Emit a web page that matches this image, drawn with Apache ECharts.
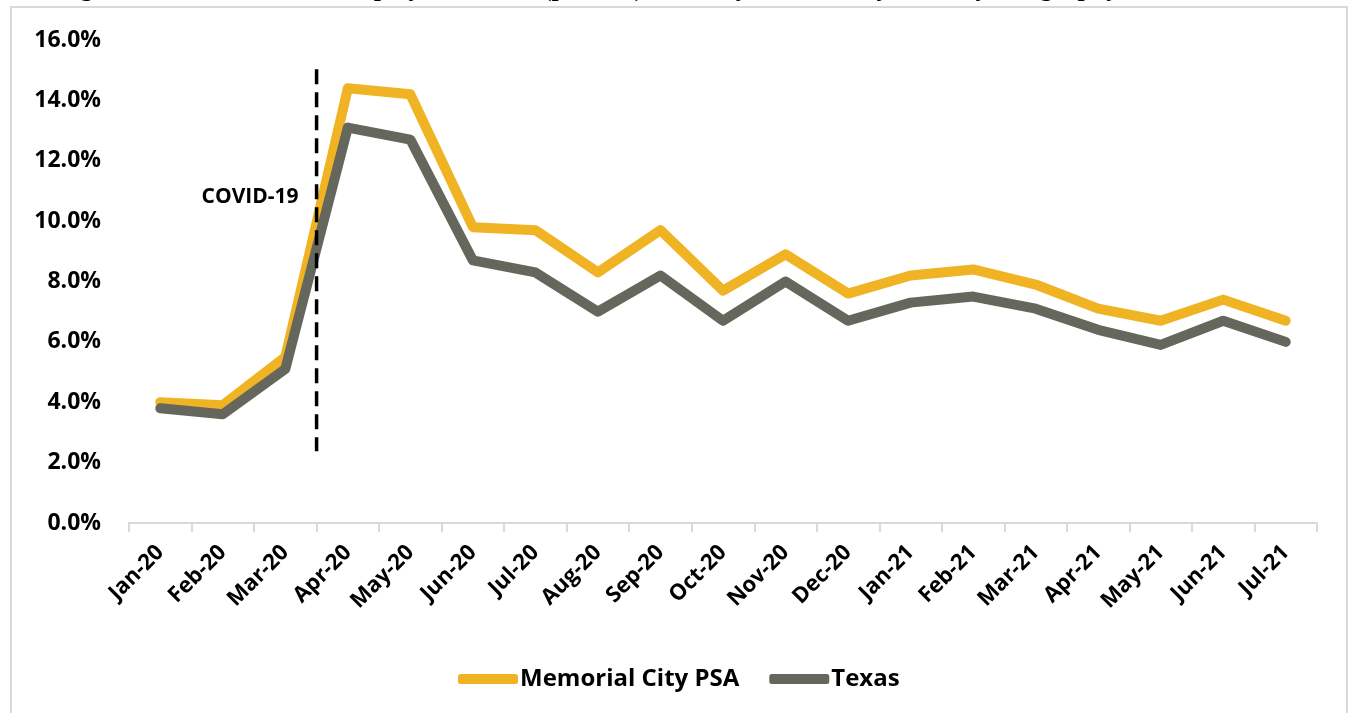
<!DOCTYPE html>
<html>
<head>
<meta charset="utf-8">
<script src="https://cdn.jsdelivr.net/npm/echarts@6/dist/echarts.min.js"></script>
<style>
html,body{margin:0;padding:0;background:#fff;}
#chart{width:1351px;height:713px;}
</style>
</head>
<body>
<div id="chart"></div>
<script>
const months = ['Jan-20','Feb-20','Mar-20','Apr-20','May-20','Jun-20','Jul-20','Aug-20','Sep-20','Oct-20','Nov-20','Dec-20','Jan-21','Feb-21','Mar-21','Apr-21','May-21','Jun-21','Jul-21'];
const memorialCity = [4.0, 3.9, 5.5, 14.4, 14.2, 9.8, 9.7, 8.3, 9.7, 7.7, 8.9, 7.6, 8.2, 8.4, 7.9, 7.1, 6.7, 7.4, 6.7];
const texas = [3.8, 3.6, 5.1, 13.1, 12.7, 8.7, 8.3, 7.0, 8.2, 6.7, 8.0, 6.7, 7.3, 7.5, 7.1, 6.4, 5.9, 6.7, 6.0];
const seriesNames = ['Memorial City PSA', 'Texas'];
const yTicks = [0, 2, 4, 6, 8, 10, 12, 14, 16];
const covidLine = [[3, 15.03], [3, 2.38]];
const covidLabel = [[3, 10.8]];
const covidText = 'COVID-19';
const titleText = 'Figure 10: Local Area Unemployment Rate (percent), January 2020 to July 2021, by Geography';

const FONT = '"Open Sans", sans-serif';
const chart = echarts.init(document.getElementById('chart'), null, {renderer: 'canvas'});
chart.setOption({
  backgroundColor: '#fff',
  animation: false,
  graphic: [
    {type: 'rect', shape: {x: 11, y: 7, width: 1336, height: 720}, style: {fill: 'none', stroke: '#d9d9d9', lineWidth: 2}, silent: true, z: -1},
    {type: 'text', left: 57, top: -24, style: {text: titleText, font: 'bold 26px "Liberation Serif", serif', fill: '#000'}, silent: true}
  ],
  grid: {left: 129, right: 34, top: 40, bottom: 190, containLabel: false},
  legend: {
    data: seriesNames,
    left: 453, top: 662,
    itemWidth: 60, itemHeight: 10, itemGap: 30,
    icon: 'roundRect',
    textStyle: {fontFamily: FONT, fontWeight: 'bold', fontSize: 24, color: '#000', padding: [0, 0, 0, -3]}
  },
  xAxis: [
    {
      type: 'category', data: months, boundaryGap: true,
      axisLine: {show: true, lineStyle: {color: '#d9d9d9', width: 2}},
      axisTick: {show: true, length: 9, interval: 0, lineStyle: {color: '#d9d9d9', width: 2}},
      axisLabel: {interval: 0, rotate: 45, margin: 26, fontFamily: FONT, fontWeight: 'bold', fontSize: 22, color: '#000'},
      splitLine: {show: false}
    },
    {type: 'value', min: 0, max: months.length, show: false}
  ],
  yAxis: {
    type: 'value', min: yTicks[0], max: yTicks[yTicks.length - 1], interval: 2,
    axisLine: {show: false}, axisTick: {show: false}, splitLine: {show: false},
    axisLabel: {margin: 28, fontFamily: FONT, fontWeight: 'bold', fontSize: 23, color: '#000', formatter: v => v.toFixed(1) + '%'}
  },
  series: [
    {
      name: seriesNames[0], type: 'line', data: memorialCity, showSymbol: false, symbol: 'none',
      color: '#F0B323',
      lineStyle: {width: 10, color: '#F0B323', cap: 'round', join: 'round'}, z: 2
    },
    {
      name: seriesNames[1], type: 'line', data: texas, showSymbol: false, symbol: 'none',
      color: '#66675C',
      lineStyle: {width: 10, color: '#66675C', cap: 'round', join: 'round'}, z: 3
    },
    {
      name: 'covidLine', type: 'line', xAxisIndex: 1, data: covidLine, symbol: 'none', silent: true,
      lineStyle: {width: 3.5, color: '#000', type: [15, 8]}, z: 4
    },
    {
      name: 'covidLabel', type: 'scatter', xAxisIndex: 1, data: covidLabel, symbolSize: 0, silent: true,
      itemStyle: {color: '#000', opacity: 1},
      label: {show: true, position: 'left', distance: 18, formatter: covidText, fontFamily: FONT, fontWeight: 'bold', fontSize: 21, color: '#000'}
    }
  ]
});
</script>
</body>
</html>
